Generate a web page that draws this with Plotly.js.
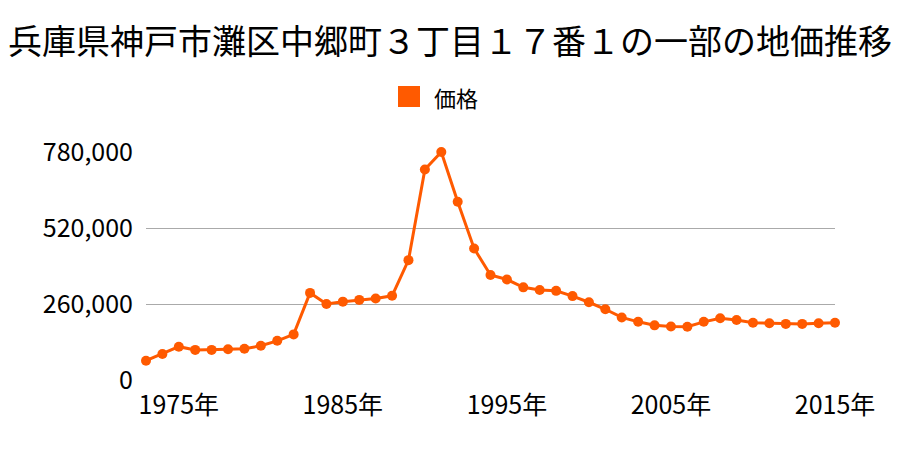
<!DOCTYPE html>
<html>
<head>
<meta charset="utf-8">
<script src="https://cdn.plot.ly/plotly-3.0.1.min.js"></script>
<style>html,body{margin:0;padding:0;background:#fff;}#chart{width:900px;height:450px;}</style>
</head>
<body>
<div id="chart"></div>
<script>
const years = [1973,1974,1975,1976,1977,1978,1979,1980,1981,1982,1983,1984,1985,1986,1987,1988,1989,1990,1991,1992,1993,1994,1995,1996,1997,1998,1999,2000,2001,2002,2003,2004,2005,2006,2007,2008,2009,2010,2011,2012,2013,2014,2015];
const prices = [66000,89000,114000,103000,103000,105000,107000,117000,134000,156000,298000,260000,268000,274000,279000,288000,410000,720000,780000,610000,450000,359000,344000,317000,308000,305000,287000,266000,242000,214000,199000,187000,183000,182000,199000,211000,205000,196000,194000,192000,192000,194000,196000];
const yTicks = [0,260000,520000,780000];
const xTicks = [1975,1985,1995,2005,2015];
const seriesName = '価格';
const titleText = '兵庫県神戸市灘区中郷町３丁目１７番１の一部の地価推移';

const color = 'rgb(255,90,0)';
const fontFam = '"Noto Sans CJK JP", "Liberation Sans", sans-serif';

const traces = [
  {x: years, y: prices, mode: 'lines+markers', type: 'scatter', name: seriesName,
   line: {color: color, width: 3}, marker: {color: color, size: 10}, showlegend: false, cliponaxis: false}
];

const layout = {
  width: 900, height: 450,
  margin: {l: 146, r: 65, t: 152, b: 70},
  paper_bgcolor: '#fff', plot_bgcolor: '#fff',
  font: {family: fontFam, color: '#000', size: 22},
  title: {text: titleText, font: {family: fontFam, size: 34, color: '#000'}, x: 0.5, xanchor: 'center', y: 0.907, yanchor: 'middle'},
  showlegend: false,
  shapes: [
    {type: 'rect', xref: 'paper', yref: 'paper', x0: (398-146)/689, x1: (420-146)/689, y0: (380-107)/228, y1: (380-86)/228,
     fillcolor: color, line: {width: 0}}
  ],
  annotations: [
    {text: seriesName, xref: 'paper', yref: 'paper', x: (432-146)/689, xanchor: 'left', y: (380-97)/228, yanchor: 'middle',
     showarrow: false, font: {size: 22, family: fontFam, color: '#000'}}
  ],
  xaxis: {range: [1973, 2015], tickvals: xTicks, ticktext: xTicks.map(v => v + '年'), showgrid: false, zeroline: false,
          showline: false, ticks: '', ticklabelstandoff: 8, tickfont: {size: 25, family: fontFam}},
  yaxis: {range: [0, 780000], tickvals: yTicks, tickformat: ',', showgrid: true, gridcolor: '#aaaaaa', gridwidth: 1,
          zeroline: false, showline: false, ticks: '', ticklabelstandoff: 12, tickfont: {size: 25, family: fontFam}}
};

Plotly.newPlot('chart', traces, layout, {displayModeBar: false, staticPlot: true});
</script>
</body>
</html>
